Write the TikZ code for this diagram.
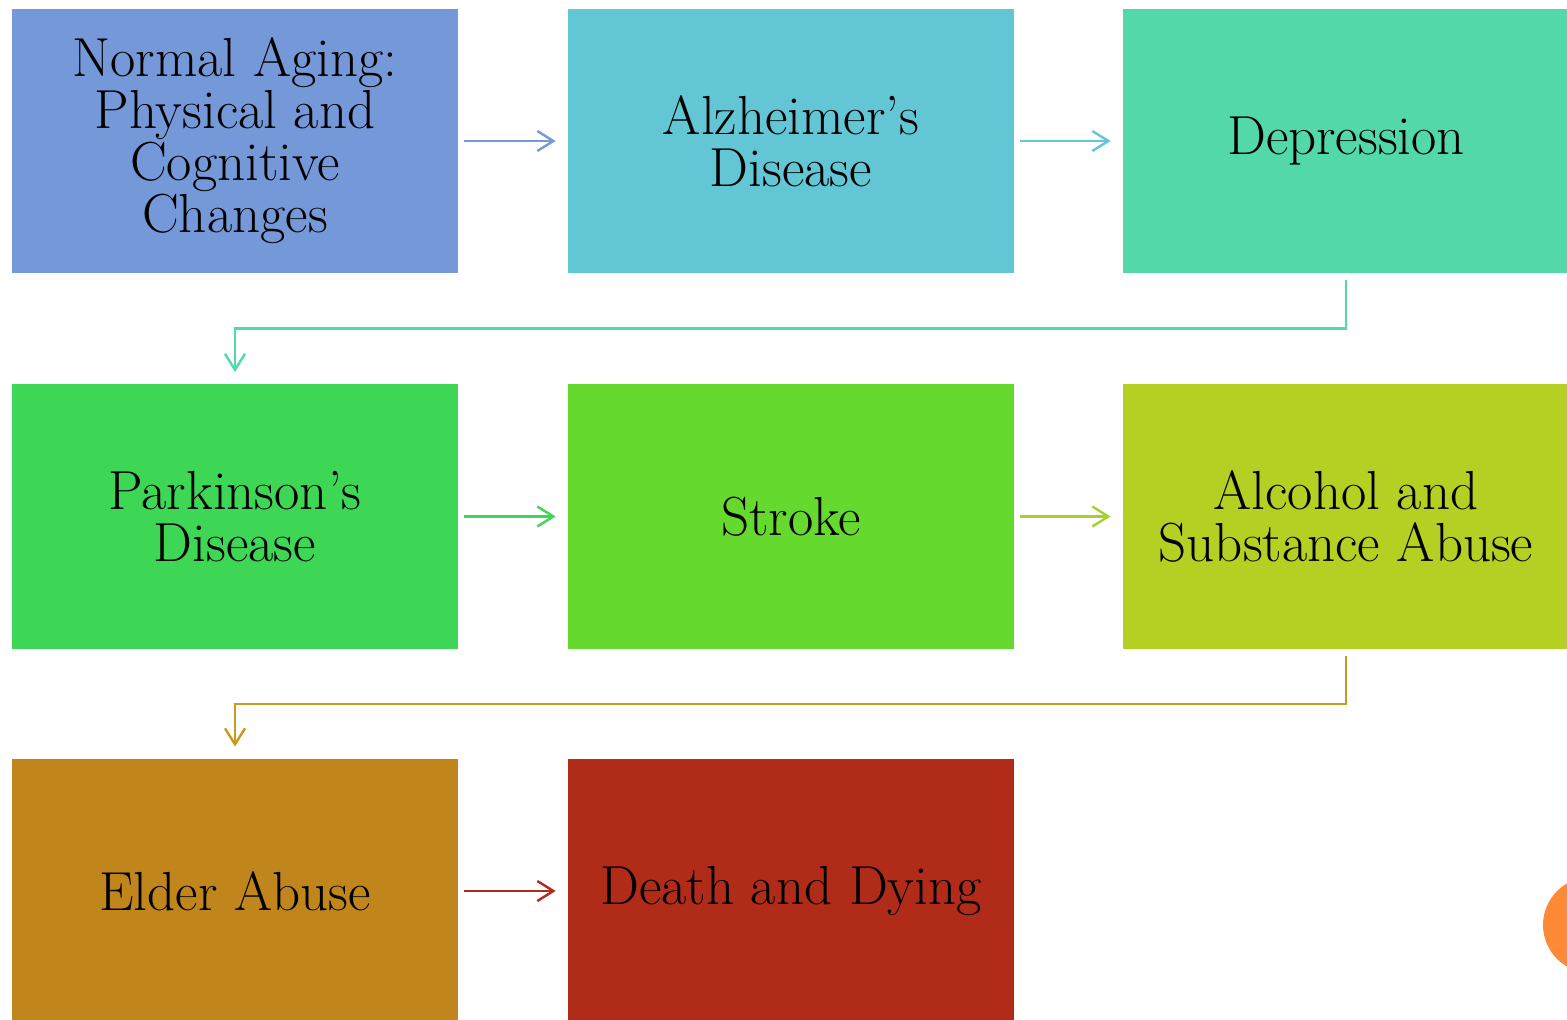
\documentclass[tikz,border=0pt]{standalone}
\usepackage{tikz}
\usetikzlibrary{arrows.meta}
\definecolor{agingblue}{HTML}{7599D8}
\definecolor{alzcyan}{HTML}{63C6D5}
\definecolor{deprteal}{HTML}{52D8A9}
\definecolor{parkgreen}{HTML}{3ED755}
\definecolor{strokelime}{HTML}{66D92E}
\definecolor{alcohololive}{HTML}{B5CF22}
\definecolor{alcoholarrow}{HTML}{A6D02A}
\definecolor{elderochre}{HTML}{C0851B}
\definecolor{elderarrow}{HTML}{C99A1F}
\definecolor{deathred}{HTML}{B02B18}
\definecolor{dotorange}{HTML}{FF8A36}
\tikzset{
  stage/.style={rectangle,minimum width=223pt,minimum height=132pt,inner sep=0pt,
                align=center,font=\fontsize{27.5}{26}\selectfont},
  link/.style={-{Straight Barb[length=8pt,width=10pt]},line width=1.2pt,draw=#1,
               shorten <=3pt,shorten >=6pt},
  elbow/.style={link=#1,shorten <=3.5pt}
}
\begin{document}
\begin{tikzpicture}[x=0.5pt,y=-0.5pt]
  \clip (0,0) rectangle (1567,1020);
  \fill[white] (0,0) rectangle (1567,1020);
  % Row 1
  \node[stage,fill=agingblue] (aging) at (235,141) {Normal Aging:\\Physical and\\Cognitive\\Changes};
  \node[stage,fill=alzcyan] (alz) at (791,141) {Alzheimer's\\Disease};
  \node[stage,fill=deprteal] (depr) at (1346,141) {Depression};
  % Row 2
  \node[stage,fill=parkgreen] (park) at (235,516.5) {Parkinson's\\Disease};
  \node[stage,fill=strokelime] (stroke) at (791,516.5) {Stroke};
  \node[stage,fill=alcohololive] (alcohol) at (1346,516.5) {Alcohol and\\Substance Abuse};
  % Row 3
  \node[stage,fill=elderochre] (elder) at (235,891) {Elder Abuse};
  \node[stage,fill=deathred] (death) at (791,891) {Death and Dying};

  \draw[link=agingblue] (aging) -- (alz);
  \draw[link=alzcyan] (alz) -- (depr);
  \draw[elbow=deprteal] (depr.south) -- ++(0,55) -| (park.north);
  \draw[link=parkgreen] (park) -- (stroke);
  \draw[link=alcoholarrow] (stroke) -- (alcohol);
  \draw[elbow=elderarrow] (alcohol.south) -- ++(0,55) -| (elder.north);
  \draw[link=deathred] (elder) -- (death);

  \fill[dotorange] (1591,925) circle[radius=24pt];
\end{tikzpicture}
\end{document}
